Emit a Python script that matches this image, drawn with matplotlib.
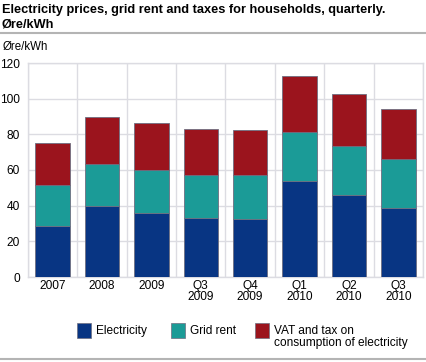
import matplotlib
matplotlib.use("Agg")
import matplotlib.pyplot as plt
import numpy as np
from matplotlib.patches import Rectangle
from matplotlib.lines import Line2D

plt.rcParams['font.family'] = ['Liberation Sans', 'DejaVu Sans']

categories = ["2007", "2008", "2009", "Q3\n2009", "Q4\n2009", "Q1\n2010", "Q2\n2010", "Q3\n2010"]
electricity = [28.6, 39.6, 35.7, 32.9, 32.5, 54.0, 46.0, 38.7]
grid_rent = [23.0, 23.6, 24.3, 24.3, 24.5, 27.5, 27.7, 27.7]
vat_tax = [23.7, 26.4, 26.2, 25.6, 25.3, 31.0, 28.9, 27.6]
series_names = ["Electricity", "Grid rent", "VAT and tax on\nconsumption of electricity"]
colors = ["#083583", "#1b9b97", "#9b141d"]
yticks = [0, 20, 40, 60, 80, 100, 120]

fig = plt.figure(figsize=(4.27, 3.62), dpi=100)
ax = fig.add_axes([28/427, 1-277/362, (423-28)/427, (277-63)/362])

x = np.arange(len(categories))
bottom = np.zeros(len(categories))
for vals, col in zip([electricity, grid_rent, vat_tax], colors):
    ax.bar(x, vals, width=0.7, bottom=bottom, color=col, edgecolor="#6e6e80", linewidth=0.6, zorder=3)
    bottom += np.array(vals)

grid_col = "#dcdce2"
ax.set_xlim(-0.5, len(categories) - 0.5)
ax.set_ylim(0, 120)
ax.set_yticks(yticks)
ax.set_xticks(x)
ax.set_xticklabels(categories, fontsize=8.6, linespacing=0.95)
ax.tick_params(axis='y', labelsize=8.6, length=0, pad=6)
ax.tick_params(axis='x', length=0, pad=2)
ax.yaxis.grid(True, color=grid_col, linewidth=1, zorder=0)
for b in np.arange(-0.5, len(categories), 1.0):
    ax.axvline(b, color=grid_col, linewidth=1, zorder=0)
for s in ax.spines.values():
    s.set_color(grid_col)
    s.set_linewidth(1)

fig.text(2/427, 1-10/362, "Electricity prices, grid rent and taxes for households, quarterly.",
         fontsize=9.2, fontweight='bold', va='center', ha='left')
fig.text(2/427, 1-25/362, "Øre/kWh",
         fontsize=9.2, fontweight='bold', va='center', ha='left')
fig.add_artist(Line2D([0, 1], [1-32.5/362, 1-32.5/362], color="#b4b4b4", linewidth=1.5))
fig.add_artist(Line2D([0, 1], [1-359/362, 1-359/362], color="#b4b4b4", linewidth=1.5))
fig.text(3/427, 1-47/362, "Øre/kWh", fontsize=8.3, va='center', ha='left')

# legend
leg_x = [77, 171, 255]
for lx, col, name in zip(leg_x, colors, series_names):
    fig.add_artist(Rectangle((lx/427, 1-338/362), 14/427, 15/362, transform=fig.transFigure,
                             facecolor=col, edgecolor="#6e6e80", linewidth=0.5))
    fig.text((lx+19)/427, 1-325/362, name, fontsize=8.6, va='top', ha='left', linespacing=1.0)

fig.savefig("out.png", dpi=100)
